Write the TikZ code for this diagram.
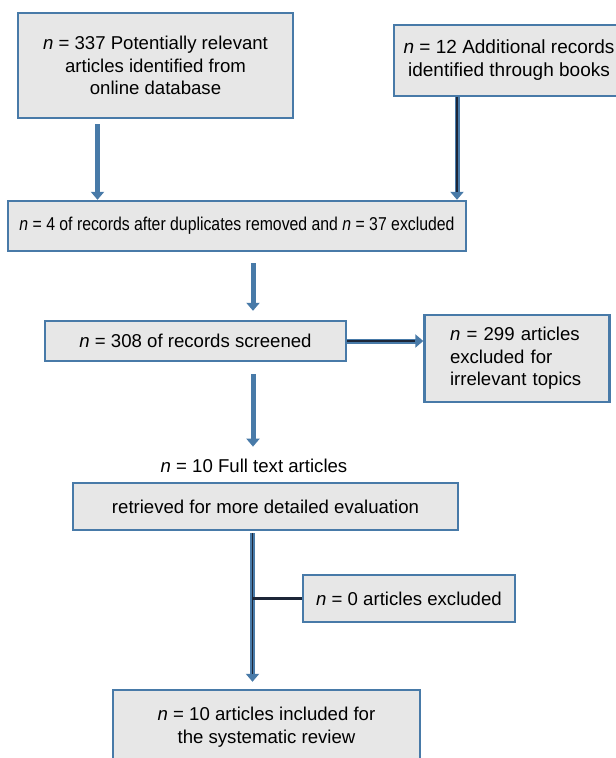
\documentclass[tikz,border=0pt]{standalone}
\usepackage{fontspec}
\setmainfont{Liberation Sans}
\usetikzlibrary{arrows.meta,positioning,calc}
\definecolor{boxblue}{RGB}{72,122,168}
\definecolor{boxgray}{RGB}{231,231,231}
\definecolor{coredark}{RGB}{28,38,56}
\newcommand{\nval}{\textit{n}}

\begin{document}
\begin{tikzpicture}[
x=1pt, y=-1pt,
stage/.style={
  draw=boxblue,
  fill=boxgray,
  line width=2.4pt,
  align=center,
  inner sep=4pt,
  font=\fontsize{18.6}{22.5}\selectfont
  },
flow/.style={
  draw=boxblue,
  line width=5pt,
  -{Triangle[width=13pt,length=8pt]}
  },
core/.style={
  draw=coredark,
  line width=1.6pt,
  shorten >=8pt
  },
plain/.style={
  font=\fontsize{18.6}{22.5}\selectfont
  }
]
\useasboundingbox (0,0) rectangle (616,758);

% boxes
\node[stage, minimum width=275pt, minimum height=105pt] (ident) at (155.5,65.5)
  {\nval{} = 337 Potentially relevant\\articles identified from\\online database};
\node[stage, minimum width=230pt, minimum height=71pt, font=\fontsize{19}{23}\selectfont] (books) at (509,60.5)
  {\nval{} = 12 Additional records\\identified through books};
\node[stage, minimum width=458pt, minimum height=50pt] (dup) at (237,226)
  {\scalebox{0.85}[1]{\nval{} = 4 of records after duplicates removed and \nval{} = 37 excluded}};
\node[stage, minimum width=301pt, minimum height=40pt] (screen) at (195.5,341)
  {\nval{} = 308 of records screened};
\node[stage, align=left, text width=134pt, inner xsep=25.5pt, minimum height=87pt] (irrel) at (517,358.5)
  {\hyphenpenalty=10000\relax\nval{} = 299 articles\\excluded for\\irrelevant topics};
\node[plain] (full) at (254,466) {\nval{} = 10 Full text articles};
\node[stage, minimum width=385pt, minimum height=47pt] (eval) at (265.5,506.5)
  {retrieved for more detailed evaluation};
\node[stage, minimum width=212pt, minimum height=47pt] (zero) at (409,598.5)
  {\nval{} = 0 articles excluded};
\node[stage, minimum width=307pt, minimum height=74pt] (incl) at (266.5,727)
  {\nval{} = 10 articles included for\\the systematic review};

% connectors
\coordinate (a1) at ($(ident.south)+(-58,5)$);
\draw[flow] (a1) -- (a1 |- dup.north);

\coordinate (a2) at ($(books.south)+(-52,0)$);
\draw[flow] (a2) -- (a2 |- dup.north);
\draw[core] (a2) -- (a2 |- dup.north);

\coordinate (a3) at ($(dup.south)+(16,11)$);
\draw[flow] (a3) -- ($(a3 |- screen.north)+(0,-9)$);

\draw[flow] (screen.east) -- (irrel.west |- screen.east);
\draw[core] (screen.east) -- (irrel.west |- screen.east);

\coordinate (a5) at ($(screen.south)+(57.5,12)$);
\draw[flow] (a5) -- ($(a5 |- full.north)+(0,-9)$);

\coordinate (a6) at ($(eval.south)+(-13,2)$);
\draw[flow] (a6) -- ($(a6 |- incl.north)+(0,-7)$);
\draw[core] (a6) -- ($(a6 |- incl.north)+(0,-7)$);
\draw[coredark, line width=3pt] (a6 |- zero.west) -- (zero.west);

\end{tikzpicture}
\end{document}
